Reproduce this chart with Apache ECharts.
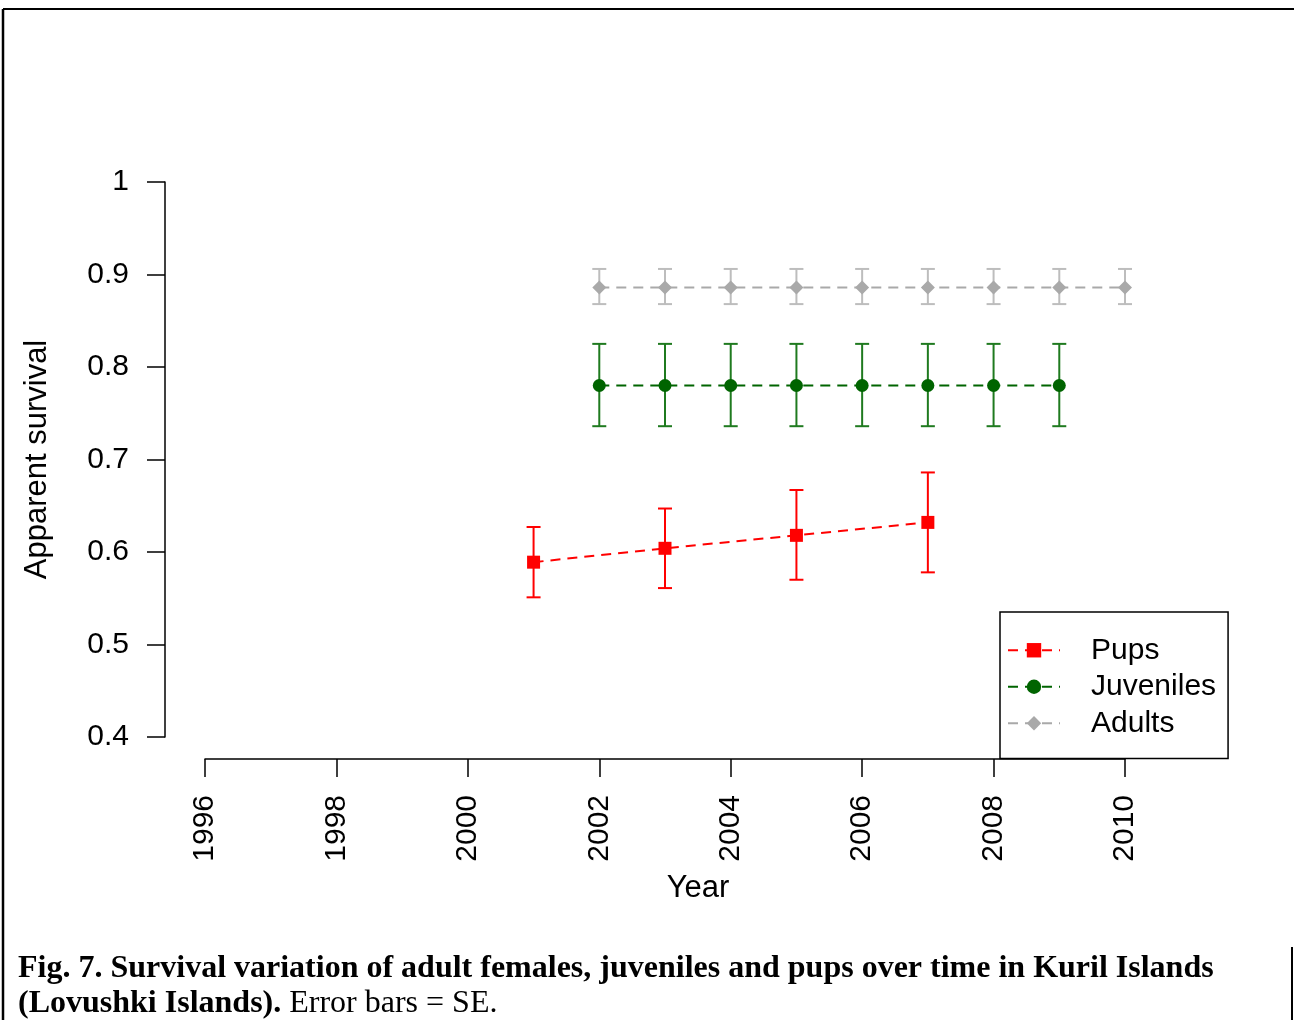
<!DOCTYPE html>
<html>
<head>
<meta charset="utf-8">
<script src="https://cdn.jsdelivr.net/npm/echarts@6/dist/echarts.min.js"></script>
<style>
  html, body { margin: 0; padding: 0; background: #fff; }
  #myChart { width: 1304px; height: 1020px; }
</style>
</head>
<body>
<div id="myChart"></div>
<script>
// data
var pupYears = [2001, 2003, 2005, 2007];
var pupMean = [0.589, 0.604, 0.618, 0.632];
var pupLow = [0.551, 0.561, 0.570, 0.578];
var pupHigh = [0.627, 0.647, 0.667, 0.686];

var juvYears = [2002, 2003, 2004, 2005, 2006, 2007, 2008, 2009];
var juvMean = [0.780, 0.780, 0.780, 0.780, 0.780, 0.780, 0.780, 0.780];
var juvLow = [0.736, 0.736, 0.736, 0.736, 0.736, 0.736, 0.736, 0.736];
var juvHigh = [0.825, 0.825, 0.825, 0.825, 0.825, 0.825, 0.825, 0.825];

var adYears = [2002, 2003, 2004, 2005, 2006, 2007, 2008, 2009, 2010];
var adMean = [0.886, 0.886, 0.886, 0.886, 0.886, 0.886, 0.886, 0.886, 0.886];
var adLow = [0.868, 0.868, 0.868, 0.868, 0.868, 0.868, 0.868, 0.868, 0.868];
var adHigh = [0.906, 0.906, 0.906, 0.906, 0.906, 0.906, 0.906, 0.906, 0.906];

var yearTicks = [1996, 2010, 2];   // min, max, step
var survTicks = [0.4, 1, 0.1];

function pairs(xs, ys) {
  return xs.map(function (x, i) { return [x, ys[i]]; });
}
function bars(xs, lo, hi) {
  return xs.map(function (x, i) { return [x, lo[i], hi[i]]; });
}

// error bar drawn with caps
function errBar(color) {
  return function (params, api) {
    var top = api.coord([api.value(0), api.value(2)]);
    var bot = api.coord([api.value(0), api.value(1)]);
    var w = 7;
    var st = { stroke: color, lineWidth: 2 };
    return {
      type: "group",
      children: [
        { type: "line", shape: { x1: top[0], y1: top[1], x2: bot[0], y2: bot[1] }, style: st },
        { type: "line", shape: { x1: top[0] - w, y1: top[1], x2: top[0] + w, y2: top[1] }, style: st },
        { type: "line", shape: { x1: bot[0] - w, y1: bot[1], x2: bot[0] + w, y2: bot[1] }, style: st },
      ],
    };
  };
}

var myChart = echarts.init(document.getElementById("myChart"));
var font = "Arial, 'Liberation Sans', sans-serif";
var serif = "'Liberation Serif', 'Times New Roman', serif";

var option = {
  animation: false,
  title: {
    left: 13,
    top: 946,
    text: "{b|Fig. 7. Survival variation of adult females, juveniles and pups over time in Kuril Islands}\n{b|(Lovushki Islands).}{n| Error bars = SE.}",
    textStyle: {
      rich: {
        b: { fontFamily: serif, fontWeight: "bold", fontSize: 32, lineHeight: 35, color: "#000" },
        n: { fontFamily: serif, fontWeight: "normal", fontSize: 32, lineHeight: 35, color: "#000" },
      },
    },
  },
  legend: {
    orient: "vertical",
    left: 1000,
    top: 612,
    padding: [20, 12, 17, 7],
    itemGap: 0,
    itemWidth: 52,
    itemHeight: 18,
    borderColor: "#000",
    borderWidth: 1.5,
    borderRadius: 0,
    textStyle: {
      fontFamily: font,
      fontSize: 30,
      color: "#000",
      lineHeight: 36.5,
      padding: [0, 0, 0, 26],
    },
    data: ["Pups", "Juveniles", "Adults"],
  },
  grid: { left: 205, right: 179, top: 182, bottom: 283 },
  xAxis: {
    type: "value",
    min: yearTicks[0],
    max: yearTicks[1],
    interval: yearTicks[2],
    offset: 22,
    name: "Year",
    nameLocation: "middle",
    nameGap: 114,
    nameTextStyle: { fontFamily: font, fontSize: 31, color: "#000", padding: [0, 0, 0, 66] },
    splitLine: { show: false },
    axisLine: { lineStyle: { color: "#000", width: 1.5 } },
    axisTick: { length: 18, lineStyle: { color: "#000", width: 1.5 } },
    axisLabel: {
      rotate: 90,
      margin: 36,
      fontFamily: font,
      fontSize: 30,
      color: "#000",
      showMinLabel: true,
      showMaxLabel: true,
      formatter: function (v) { return String(v); },
    },
  },
  yAxis: {
    type: "value",
    min: survTicks[0],
    max: survTicks[1],
    interval: survTicks[2],
    offset: 40,
    name: "Apparent survival",
    nameLocation: "middle",
    nameGap: 112,
    nameTextStyle: { fontFamily: font, fontSize: 31, color: "#000" },
    splitLine: { show: false },
    axisLine: { show: true, lineStyle: { color: "#000", width: 1.5 } },
    axisTick: { show: true, length: 18, lineStyle: { color: "#000", width: 1.5 } },
    axisLabel: {
      margin: 36,
      fontFamily: font,
      fontSize: 30,
      color: "#000",
      formatter: function (v) { return String(Math.round(v * 10) / 10); },
    },
  },
  series: [
    {
      name: "Pups",
      type: "line",
      data: pairs(pupYears, pupMean),
      symbol: "rect",
      symbolSize: 13,
      itemStyle: { color: "#ff0000" },
      lineStyle: { color: "#ff0000", width: 2, type: [10, 7] },
      z: 5,
    },
    {
      name: "Juveniles",
      type: "line",
      data: pairs(juvYears, juvMean),
      symbol: "circle",
      symbolSize: 13,
      itemStyle: { color: "#006400" },
      lineStyle: { color: "#006400", width: 2, type: [10, 7] },
      z: 5,
    },
    {
      name: "Adults",
      type: "line",
      data: pairs(adYears, adMean),
      symbol: "diamond",
      symbolSize: 14,
      clip: false,
      itemStyle: { color: "#a9a9a9" },
      lineStyle: { color: "#a9a9a9", width: 2, type: [10, 7] },
      z: 5,
    },
    {
      type: "custom",
      renderItem: errBar("#ff0000"),
      data: bars(pupYears, pupLow, pupHigh),
      encode: { x: 0, y: [1, 2] },
      z: 3,
    },
    {
      type: "custom",
      renderItem: errBar("#1f7a1f"),
      data: bars(juvYears, juvLow, juvHigh),
      encode: { x: 0, y: [1, 2] },
      z: 3,
    },
    {
      type: "custom",
      renderItem: errBar("#bdbdbd"),
      data: bars(adYears, adLow, adHigh),
      encode: { x: 0, y: [1, 2] },
      clip: false,
      z: 3,
    },
  ],
  graphic: [
    { type: "line", shape: { x1: 3, y1: 9, x2: 1294, y2: 9 }, style: { stroke: "#000", lineWidth: 2 } },
    { type: "line", shape: { x1: 3, y1: 9, x2: 3, y2: 1020 }, style: { stroke: "#000", lineWidth: 2.5 } },
    { type: "line", shape: { x1: 1292, y1: 947, x2: 1292, y2: 1020 }, style: { stroke: "#000", lineWidth: 2 } },
  ],
};
myChart.setOption(option);
</script>
</body>
</html>
